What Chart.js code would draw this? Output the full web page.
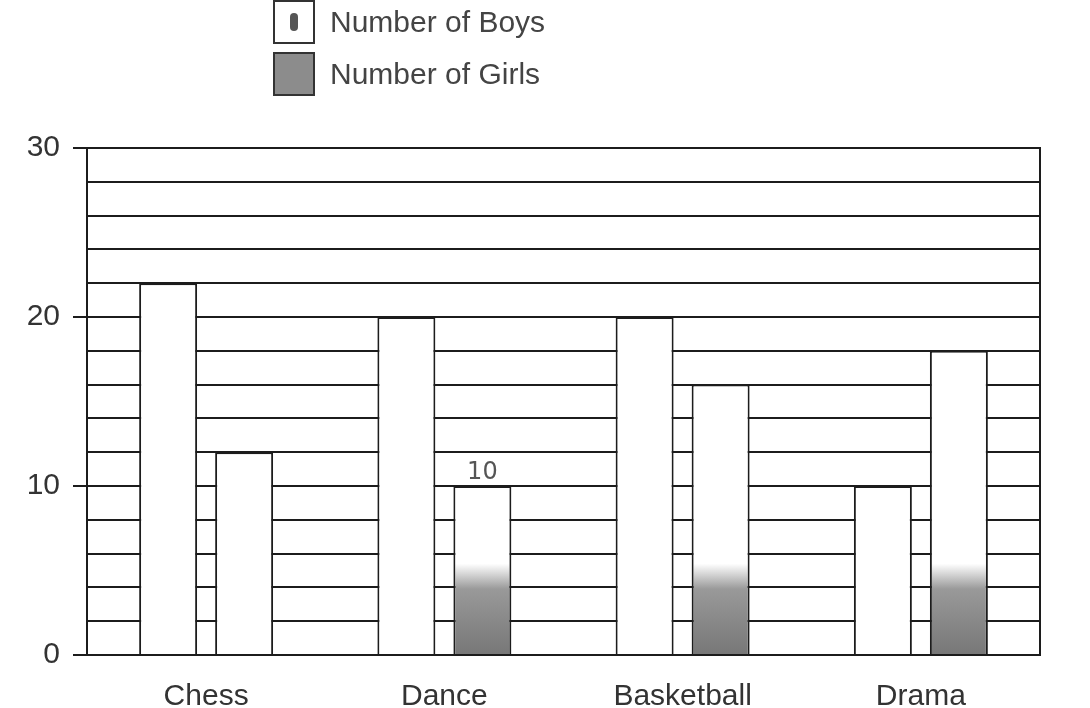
<!DOCTYPE html>
<html>
<head>
<meta charset="utf-8">
<title>Number of Boys and Girls</title>
<script src="https://cdn.jsdelivr.net/npm/chart.js@4.4.1/dist/chart.umd.min.js"></script>
<style>
    html, body { margin: 0; padding: 0; background: #fff; }
    #wrap { position: relative; width: 1090px; height: 708px; }
    #legend { position: absolute; left: 273px; top: 0; font-family: "Liberation Sans", Arial, sans-serif; font-size: 30px; color: #444; }
    #legend .item { display: flex; align-items: center; height: 44px; margin-bottom: 8px; }
    #legend .box { position: relative; width: 38px; height: 40px; border: 2px solid #333; margin-right: 15px; box-sizing: content-box; }
    #legend .mark { position: absolute; left: 15px; top: 11px; width: 8px; height: 18px; border-radius: 4px; background: #555; }
</style>
</head>
<body>
<div id="wrap">
    <canvas id="mycanvas" width="1090" height="708"></canvas>
    <div id="legend"></div>
</div>
<script>
var categories = ['Chess', 'Dance', 'Basketball', 'Drama'];
var boys = [22, 20, 20, 10];
var girls = [12, 10, 16, 18];
var yLabels = [0, 10, 20, 30];
var notes = ['', '10', '', ''];   // hand-written note above the girls bars

var ink = '#1c1c1c';

// girls bars are shaded near the bottom like in the scan (not the chess one)
function girlsFill(ctx) {
    var chart = ctx.chart;
    if (!chart.chartArea || ctx.dataIndex === 0) return '#fff';
    var y = chart.scales.y;
    var g = chart.ctx.createLinearGradient(0, y.getPixelForValue(0), 0, y.getPixelForValue(30));
    g.addColorStop(0, '#777777');
    g.addColorStop(0.13, '#999999');
    g.addColorStop(0.18, '#ffffff');
    g.addColorStop(1, '#ffffff');
    return g;
}

var notePlugin = {
    id: 'notes',
    afterDatasetsDraw: function(chart) {
        var meta = chart.getDatasetMeta(1);
        var c = chart.ctx;
        c.save();
        c.font = '24px "DejaVu Sans"';
        c.fillStyle = '#555';
        c.textAlign = 'center';
        c.textBaseline = 'bottom';
        meta.data.forEach(function(bar, i) {
            if (notes[i]) c.fillText(notes[i], bar.x, bar.y - 1);
        });
        c.restore();
    }
};

var chartdata = {
    labels: categories,
    datasets: [{
        label: 'Number of Boys',
        data: boys,
        backgroundColor: '#ffffff',
        borderColor: ink,
        borderWidth: 2,
        legendFill: '#ffffff',
        legendMark: true
    }, {
        label: 'Number of Girls',
        data: girls,
        backgroundColor: girlsFill,
        borderColor: ink,
        borderWidth: 2,
        legendFill: '#8c8c8c',
        legendMark: false
    }]
};

var ctx = document.getElementById('mycanvas');

var barGraph = new Chart(ctx, {
    type: 'bar',
    data: chartdata,
    options: {
        responsive: false,
        animation: false,
        layout: { padding: { top: 148, left: 27, right: 50, bottom: 0 } },
        datasets: {
            bar: { categoryPercentage: 0.638, barPercentage: 0.763 }
        },
        plugins: {
            legend: { display: false },
            tooltip: { enabled: false }
        },
        scales: {
            x: {
                grid: { display: false },
                border: { display: true, color: ink, width: 2 },
                ticks: {
                    font: { family: 'Liberation Sans', size: 30 },
                    color: '#333',
                    padding: 16
                },
                afterFit: function(scale) { scale.height = 53; }
            },
            y: {
                min: 0,
                max: 30,
                ticks: {
                    stepSize: 2,
                    autoSkip: false,
                    font: { family: 'Liberation Sans', size: 30 },
                    color: '#333',
                    padding: 13,
                    callback: function(v) { return yLabels.indexOf(v) >= 0 ? v : ''; }
                },
                grid: {
                    color: ink,
                    lineWidth: 2,
                    tickLength: 14,
                    tickColor: function(c) {
                        return c.tick && yLabels.indexOf(c.tick.value) >= 0 ? ink : 'rgba(0,0,0,0)';
                    }
                },
                border: { display: true, color: ink, width: 2 },
                afterFit: function(scale) { scale.width = 60; }
            },
            y2: {
                position: 'right',
                min: 0,
                max: 30,
                grid: { display: false },
                ticks: { display: false },
                border: { display: true, color: ink, width: 2 },
                afterFit: function(scale) { scale.width = 0; }
            }
        }
    },
    plugins: [notePlugin]
});

// legend stacked in two rows, built from the datasets
var legend = document.getElementById('legend');
barGraph.data.datasets.forEach(function(ds) {
    var item = document.createElement('div');
    item.className = 'item';
    var box = document.createElement('span');
    box.className = 'box';
    box.style.background = ds.legendFill;
    if (ds.legendMark) {
        var mark = document.createElement('span');
        mark.className = 'mark';
        box.appendChild(mark);
    }
    var text = document.createElement('span');
    text.textContent = ds.label;
    item.appendChild(box);
    item.appendChild(text);
    legend.appendChild(item);
});
</script>
</body>
</html>
